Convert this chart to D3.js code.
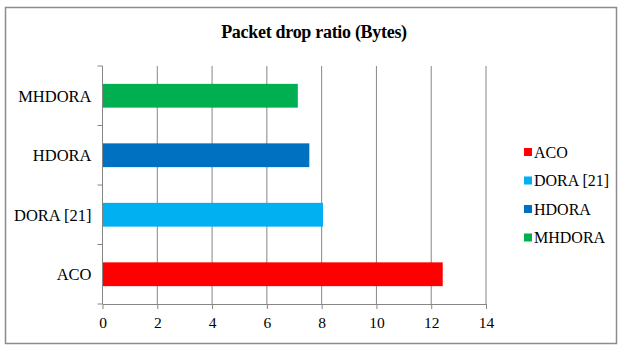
<!DOCTYPE html>
<html>
<head>
<meta charset="utf-8">
<script src="https://cdn.jsdelivr.net/npm/d3@7"></script>
<style>
  body { margin: 0; background: #fff; }
</style>
</head>
<body>
<div id="chart"></div>
<script>
// Chart data
let categories = ["ACO", "DORA [21]", "HDORA", "MHDORA"];
let values = [12.42, 8.05, 7.55, 7.13];
let colors = ["#FF0000", "#00B0F0", "#0070C0", "#00B050"];
let xTicks = [0, 2, 4, 6, 8, 10, 12, 14];

let serif = "'Liberation Serif'";

let svgWidth = 622;
let svgHeight = 347;

let margin = { top: 66, right: 136, bottom: 43, left: 102.5 };
let width = svgWidth - margin.left - margin.right;
let height = svgHeight - margin.top - margin.bottom;

let svg = d3.select("#chart")
    .append("svg")
    .attr("width", svgWidth)
    .attr("height", svgHeight);

// outer frame
svg.append("rect")
    .attr("x", 5.5).attr("y", 7.5)
    .attr("width", 611).attr("height", 336)
    .attr("fill", "none")
    .attr("stroke", "#8c8c8c")
    .attr("stroke-width", 1.5);

svg.append("text")
    .attr("x", 314).attr("y", 38)
    .attr("text-anchor", "middle")
    .style("font-family", serif)
    .style("font-size", "18px")
    .style("font-weight", "bold")
    .style("letter-spacing", "-0.3px")
    .text("Packet drop ratio (Bytes)");

let chartGroup = svg.append("g")
    .attr("transform", `translate(${margin.left}, ${margin.top})`);

let x = d3.scaleLinear().domain([0, 14]).range([0, width]);
// reverse so ACO sits at the bottom
let y = d3.scaleBand().domain(categories.slice().reverse()).range([0, height]).paddingInner(0.6).paddingOuter(0.3);
let yBand = d3.scaleBand().domain(categories.slice().reverse()).range([0, height]);

// gridlines
chartGroup.selectAll(".grid")
    .data(xTicks.slice(1))
    .join("line")
    .attr("x1", d => x(d)).attr("x2", d => x(d))
    .attr("y1", 0).attr("y2", height)
    .attr("stroke", "#868686")
    .attr("stroke-width", 1);

// bars
chartGroup.selectAll(".bar")
    .data(categories)
    .join("rect")
    .attr("x", x(0))
    .attr("y", d => y(d))
    .attr("width", (d, i) => x(values[i]) - x(0))
    .attr("height", y.bandwidth())
    .attr("fill", (d, i) => colors[i]);

// x axis
let xAxis = chartGroup.append("g")
    .attr("transform", `translate(0, ${height})`)
    .call(d3.axisBottom(x).tickValues(xTicks).tickSize(5).tickSizeOuter(0));
xAxis.attr("font-family", null).attr("font-size", null);
xAxis.selectAll("path, line").attr("stroke", "#868686");
xAxis.selectAll("text")
    .style("font-family", serif)
    .style("font-size", "15.5px")
    .attr("fill", "#000")
    .attr("dy", "1.05em");

// y axis with ticks at category boundaries
let yAxis = chartGroup.append("g");
yAxis.append("line")
    .attr("x1", 0).attr("x2", 0).attr("y1", 0).attr("y2", height)
    .attr("stroke", "#868686");
yAxis.selectAll(".ytick")
    .data(categories.slice().reverse().concat(["end"]))
    .join("line")
    .attr("x1", -5).attr("x2", 0)
    .attr("y1", (d, i) => i * yBand.step())
    .attr("y2", (d, i) => i * yBand.step())
    .attr("stroke", "#868686");
yAxis.selectAll(".ylabel")
    .data(categories)
    .join("text")
    .attr("x", -11)
    .attr("y", d => yBand(d) + yBand.bandwidth() / 2)
    .attr("dy", "0.35em")
    .attr("text-anchor", "end")
    .style("font-family", serif)
    .style("font-size", "16.5px")
    .text(d => d);

// legend
let legend = svg.append("g").attr("transform", "translate(524, 152)");
let legendItem = legend.selectAll("g")
    .data(categories)
    .join("g")
    .attr("transform", (d, i) => `translate(0, ${i * 28.5})`);
legendItem.append("rect")
    .attr("x", 0).attr("y", -4)
    .attr("width", 8).attr("height", 8)
    .attr("fill", (d, i) => colors[i]);
legendItem.append("text")
    .attr("x", 10).attr("dy", "0.35em")
    .style("font-family", serif)
    .style("font-size", "16px")
    .text(d => d);
</script>
</body>
</html>
